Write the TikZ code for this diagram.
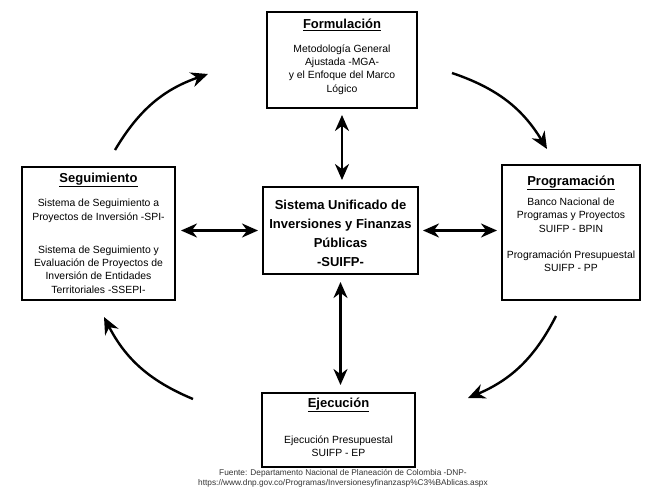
\documentclass[tikz,border=0pt]{standalone}
\usepackage{fontspec}
\setmainfont{Liberation Sans}
\usetikzlibrary{arrows.meta}
\tikzset{
  box/.style={draw, line width=2pt, inner sep=0pt},
  ttl/.style={font=\fontsize{13}{15}\selectfont\bfseries, inner sep=0pt},
  bodytxt/.style={font=\fontsize{10.4}{13.4}\selectfont, align=center, inner sep=0pt},
  ctxt/.style={font=\fontsize{13}{19}\selectfont\bfseries, align=center, inner sep=0pt},
  note/.style={font=\fontsize{8.3}{9.5}\selectfont, text=black!80, align=center, inner sep=0pt},
  dbl/.style={line width=2.4pt, arrows={Stealth[length=16pt,width=14pt]-Stealth[length=16pt,width=14pt]}},
  cyc/.style={line width=2.4pt, arrows={-Stealth[length=17pt,width=15pt]}, bend left=20}
}
\begin{document}
\begin{tikzpicture}[x=1pt,y=1pt]
\useasboundingbox (0,0) rectangle (651,-488);
% boxes
\node[box, minimum width=150pt, minimum height=96pt] (form) at (342,-60) {};
\node[box, minimum width=153pt, minimum height=133pt] (seg) at (98.5,-233.5) {};
\node[box, minimum width=138pt, minimum height=135pt] (prog) at (571,-232.5) {};
\node[box, minimum width=155pt, minimum height=87pt] (cen) at (340.5,-230.5) {};
\node[box, minimum width=153pt, minimum height=74pt] (ejec) at (338.5,-430) {};
% texts
\node[ttl] (formT) at (342,-25) {\underline{Formulación}};
\node[bodytxt] (formB) at (342,-69.5) {Metodología General\\Ajustada -MGA-\\y el Enfoque del Marco\\Lógico};
\node[ttl] (segT) at (98.5,-180) {\underline{Seguimiento}};
\node[bodytxt] (segB1) at (98.5,-211) {Sistema de Seguimiento a\\Proyectos de Inversión -SPI-};
\node[bodytxt] (segB2) at (98.5,-269.5) {Sistema de Seguimiento y\\Evaluación de Proyectos de\\Inversión de Entidades\\Territoriales -SSEPI-};
\node[ttl] (progT) at (571,-183) {\underline{Programación}};
\node[bodytxt] (progB1) at (571,-215) {Banco Nacional de\\Programas y Proyectos\\SUIFP - BPIN};
\node[bodytxt] (progB2) at (571,-261.5) {Programación Presupuestal\\SUIFP - PP};
\node[ctxt] (cenT) at (340.5,-233.5) {Sistema Unificado de\\Inversiones y Finanzas\\Públicas\\-SUIFP-};
\node[ttl] (ejecT) at (338.5,-405) {\underline{Ejecución}};
\node[bodytxt] (ejecB) at (338.5,-446.5) {Ejecución Presupuestal\\SUIFP - EP};
\node[note] (src) at (343,-478.5) {Fuente: Departamento Nacional de Planeación de Colombia -DNP-\\https://www.dnp.gov.co/Programas/Inversionesyfinanzasp\%C3\%BAblicas.aspx};
% double arrows
\draw[dbl, shorten <=6pt, shorten >=6pt] (form.south) -- (form.south |- cen.north);
\draw[dbl, shorten <=7pt, shorten >=7pt] (cen.south) -- (cen.south |- ejec.north);
\draw[dbl, shorten <=5pt, shorten >=4pt] (seg.east |- cen.west) -- (cen.west);
\draw[dbl, shorten <=4pt, shorten >=4pt] (cen.east) -- (prog.west |- cen.east);
% cycle arrows
\coordinate (a1) at (115,-150);
\coordinate (a2) at (208,-74);
\coordinate (b1) at (452,-73);
\coordinate (b2) at (547,-149);
\coordinate (c1) at (556,-316);
\coordinate (c2) at (468,-398);
\coordinate (d1) at (193,-399);
\coordinate (d2) at (104,-317);
\draw[cyc] (a1) to (a2);
\draw[cyc] (b1) to (b2);
\draw[cyc] (c1) to (c2);
\draw[cyc] (d1) to (d2);
\end{tikzpicture}
\end{document}
